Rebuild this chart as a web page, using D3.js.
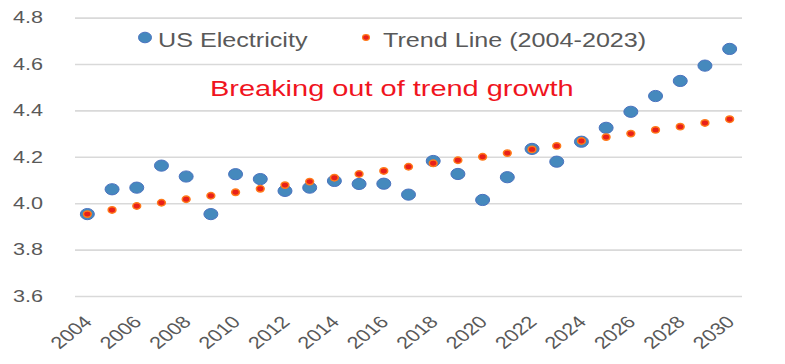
<!DOCTYPE html>
<html>
<head>
<meta charset="utf-8">
<script src="https://cdn.jsdelivr.net/npm/d3@7"></script>
<style>
  html, body { margin: 0; padding: 0; background: #fff; }
  svg { display: block; }
  text { font-family: "Liberation Sans", Arial, sans-serif; }
</style>
</head>
<body>
<svg id="chart" width="785" height="364"></svg>
<script>
const years = d3.range(2004, 2031);
const usElectricity = [3.953, 4.060, 4.067, 4.162, 4.115, 3.953, 4.125, 4.104, 4.053, 4.067,
  4.096, 4.083, 4.084, 4.037, 4.182, 4.126, 4.014, 4.112, 4.234, 4.179,
  4.265, 4.325, 4.394, 4.462, 4.527, 4.593, 4.665];
const trendLine = [3.953, 3.971, 3.988, 4.002, 4.017, 4.032, 4.047, 4.062, 4.078, 4.093,
  4.110, 4.126, 4.139, 4.157, 4.172, 4.185, 4.200, 4.216, 4.232, 4.247,
  4.268, 4.285, 4.300, 4.316, 4.330, 4.346, 4.362];
const yTicks = [3.6, 3.8, 4.0, 4.2, 4.4, 4.6, 4.8];
const xTickLabels = d3.range(2004, 2031, 2);
const seriesNames = ["US Electricity", "Trend Line (2004-2023)"];
const annotation = "Breaking out of trend growth";

const SX = 1.27; // horizontal stretch of the reference picture
const svg = d3.select("#chart");
const plotLeft = 75, plotRight = 742, plotTop = 17.6, plotBottom = 296;

const x = d3.scalePoint().domain(years).range([plotLeft, plotRight]).padding(0.5);
const y = d3.scaleLinear().domain([3.6, 4.8]).range([plotBottom, plotTop]);

// gridlines
const grid = svg.append("g").attr("transform", `translate(${plotLeft},0)`)
  .call(d3.axisLeft(y).tickValues(yTicks).tickSize(-(plotRight - plotLeft)).tickFormat(""));
grid.select(".domain").remove();
grid.selectAll(".tick line").attr("stroke", "#d9d9d9").attr("stroke-width", 1.6);

// y labels
svg.append("g").selectAll("text").data(yTicks).join("text")
  .attr("transform", d => `translate(43,${y(d) + 5.8}) scale(${SX},1)`)
  .attr("text-anchor", "end")
  .attr("font-size", 17)
  .attr("fill", "#595959")
  .text(d => d3.format(".1f")(d));

// x labels
svg.append("g").selectAll("text").data(xTickLabels).join("text")
  .attr("transform", d => `translate(${x(d) + 6},${plotBottom + 27}) scale(${SX},1) rotate(-45)`)
  .attr("text-anchor", "end")
  .attr("font-size", 17)
  .attr("fill", "#595959")
  .text(d => d);

// US Electricity points
svg.append("g").selectAll("ellipse").data(years).join("ellipse")
  .attr("cx", (d) => x(d))
  .attr("cy", (d, i) => y(usElectricity[i]))
  .attr("rx", 7).attr("ry", 5.6)
  .attr("fill", "#4589bd")
  .attr("stroke", "#4a72bf").attr("stroke-width", 1);

// Trend line points
svg.append("g").selectAll("ellipse").data(years).join("ellipse")
  .attr("cx", (d) => x(d))
  .attr("cy", (d, i) => y(trendLine[i]))
  .attr("rx", 3.9).attr("ry", 3.2)
  .attr("fill", "#e8201a")
  .attr("stroke", "#ff7a1a").attr("stroke-width", 1.5);

// legend
const lg = svg.append("g");
lg.append("ellipse").attr("cx", 145).attr("cy", 37.5).attr("rx", 6.5).attr("ry", 5.3)
  .attr("fill", "#4589bd").attr("stroke", "#4a72bf").attr("stroke-width", 1);
lg.append("text").attr("transform", `translate(158,46.5) scale(${SX},1)`)
  .attr("font-size", 19.8).attr("fill", "#595959").text(seriesNames[0]);
lg.append("ellipse").attr("cx", 366).attr("cy", 37.5).attr("rx", 3.4).attr("ry", 2.8)
  .attr("fill", "#e8201a").attr("stroke", "#ff7a1a").attr("stroke-width", 1.3);
lg.append("text").attr("transform", `translate(383,46.5) scale(${SX},1)`)
  .attr("font-size", 19.8).attr("fill", "#595959").text(seriesNames[1]);

// annotation
svg.append("text").attr("transform", `translate(210,95.5) scale(${SX},1)`)
  .attr("font-size", 22.8).attr("fill", "#f0141e").text(annotation);
</script>
</body>
</html>
